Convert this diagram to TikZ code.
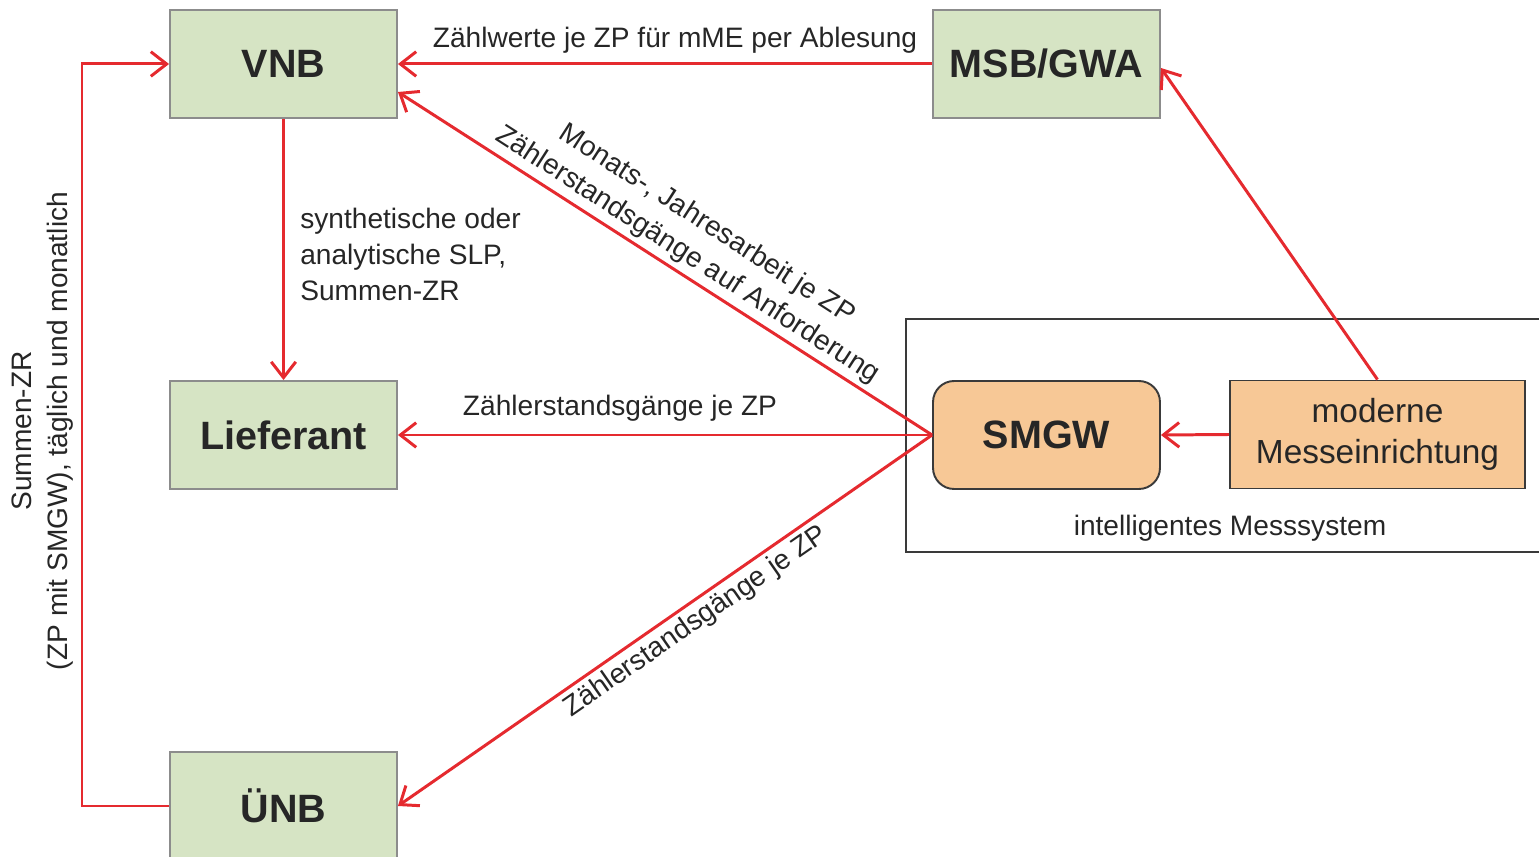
\documentclass[tikz,border=0pt]{standalone}
\usepackage{fontspec}
\setmainfont{Liberation Sans}
\usetikzlibrary{arrows.meta,calc}
\definecolor{boxgreen}{HTML}{D6E4C4}
\definecolor{boxgray}{HTML}{8C8C8C}
\definecolor{boxorange}{HTML}{F7C896}
\definecolor{darkline}{HTML}{3A3A3A}
\definecolor{flowred}{HTML}{E52A2F}
\definecolor{txt}{HTML}{262626}
\tikzset{
  greenbox/.style={draw=boxgray, line width=1.1pt, fill=boxgreen, minimum width=4.54cm, minimum height=2.16cm, inner sep=0pt, text=txt, font=\fontsize{22.5}{26}\selectfont\bfseries},
  orangebox/.style={draw=darkline, line width=1.1pt, fill=boxorange, minimum width=4.54cm, minimum height=2.16cm, inner sep=0pt, text=txt},
  flow/.style={draw=flowred, line width=1.7pt, -{Straight Barb[length=9pt,width=14pt,line width=1.7pt]}},
  lbl/.style={text=txt, font=\fontsize{16}{20.5}\selectfont, inner sep=0pt}
}
\begin{document}
\begin{tikzpicture}[x=0.02cm, y=-0.02cm]
\useasboundingbox (0,0) rectangle (1539,857);
% system frame
\node[draw=darkline, line width=1.1pt, minimum width=12.8cm, minimum height=4.66cm, inner sep=0pt, anchor=north west] (ims) at (905,318) {};
\node[lbl, anchor=center] (imslbl) at (1230,528) {intelligentes Messsystem};
% boxes
\node[greenbox] (vnb) at (283.5,64) {VNB};
\node[greenbox] (msb) at (1046.5,64) {MSB/GWA};
\node[greenbox] (lief) at (283.5,435) {Lieferant};
\node[greenbox] (unb) at (283.5,806) {ÜNB};
\node[orangebox, rounded corners=12pt, font=\fontsize{22.5}{26}\selectfont\bfseries] (smgw) at (1046.5,435) {SMGW};
\node[orangebox, minimum width=5.9cm, align=center, font=\fontsize{19}{23.5}\selectfont] (mess) at (1377.5,434.5) {moderne\\Messeinrichtung};
% connectors
\draw[flow] (msb.west) -- (vnb.east);
\draw[flow] (smgw.west) -- ([yshift=-0.56cm]vnb.east);
\draw[flow] (smgw.west) -- (lief.east);
\draw[flow] (smgw.west) -- (unb.east);
\draw[flow] (mess.north) -- ([yshift=-0.08cm]msb.east);
\draw[flow] (mess.west) -- (smgw.east);
\draw[flow] (vnb.south) -- (lief.north);
\coordinate (loopcorner) at (82,806);
\draw[flow] (unb.west) -- (loopcorner) |- (vnb.west);
% labels
\node[lbl] (l1) at (675,40) {Zählwerte je ZP für mME per Ablesung};
\node[lbl, align=left, anchor=north west] (l2) at (300,208) {synthetische oder\\analytische SLP,\\Summen-ZR};
\node[lbl] (l3) at (620,408) {Zählerstandsgänge je ZP};
\node[lbl, align=center, rotate=-32.8] (l4) at (697,240) {Monats-, Jahresarbeit je ZP\\Zählerstandsgänge auf Anforderung};
\node[lbl, rotate=34.8] (l5) at (696,622) {Zählerstandsgänge je ZP};
\node[lbl, align=center, rotate=90] (l6) at (43,431) {Summen-ZR\\(ZP mit SMGW), täglich und monatlich};
\end{tikzpicture}
\end{document}
